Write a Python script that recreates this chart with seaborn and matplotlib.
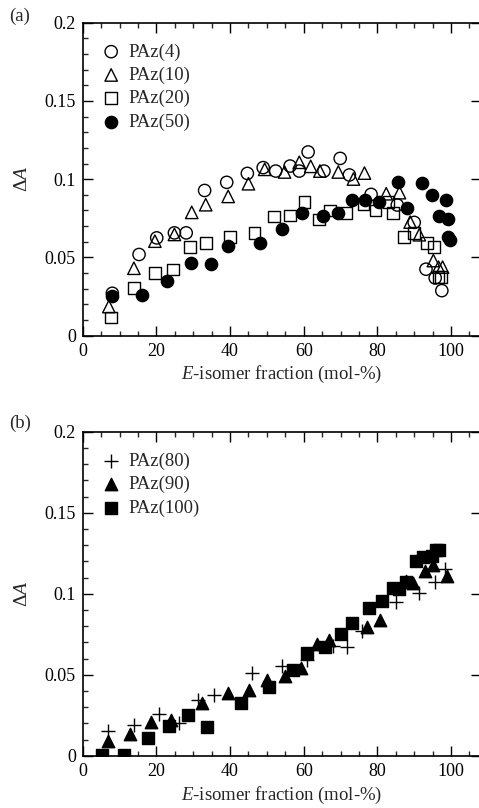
import matplotlib
matplotlib.use("Agg")
import matplotlib.pyplot as plt
import seaborn as sns
import pandas as pd
from matplotlib.ticker import MultipleLocator, FuncFormatter

sns.set_theme(style="ticks")
plt.rcParams['font.family'] = ['Liberation Serif', 'DejaVu Serif']
plt.rcParams['mathtext.fontset'] = 'custom'
plt.rcParams['mathtext.rm'] = 'Liberation Serif'
plt.rcParams['mathtext.it'] = 'Liberation Serif:italic'

# ---------------- Panel (a) data ----------------
paz4_x = [8.05, 15.3, 20.1, 24.9, 28.1, 33.1, 39.1, 44.7, 49.0, 52.4, 56.3, 58.8, 61.2, 65.5, 69.9, 72.4, 78.3, 85.4, 90.0, 93.2, 95.7, 97.5]
paz4_y = [0.0271, 0.0519, 0.0625, 0.0657, 0.0657, 0.0928, 0.098, 0.1037, 0.1074, 0.1052, 0.1084, 0.1052, 0.1174, 0.1052, 0.1133, 0.1027, 0.0903, 0.0835, 0.0724, 0.0425, 0.0369, 0.0288]

paz10_x = [7.1, 13.9, 19.6, 24.9, 29.6, 33.4, 39.5, 45.0, 49.4, 54.8, 58.8, 61.9, 64.4, 69.4, 73.5, 76.5, 82.4, 86.0, 88.9, 91.4, 95.2, 96.6, 97.7]
paz10_y = [0.0186, 0.0431, 0.0604, 0.0647, 0.0788, 0.0837, 0.089, 0.0971, 0.1063, 0.1046, 0.1108, 0.1082, 0.1052, 0.1046, 0.1001, 0.1039, 0.0907, 0.0914, 0.0726, 0.0645, 0.048, 0.0438, 0.0438]

paz20_x = [7.6, 13.9, 19.6, 24.6, 29.1, 33.4, 40.0, 46.6, 52.0, 56.3, 60.2, 64.2, 67.1, 71.5, 76.2, 79.5, 83.0, 84.3, 87.2, 90.0, 93.4, 95.4, 96.6, 97.3]
paz20_y = [0.0117, 0.0305, 0.0399, 0.0423, 0.0566, 0.0591, 0.063, 0.0657, 0.0762, 0.0768, 0.0856, 0.0743, 0.080, 0.0783, 0.0843, 0.080, 0.0854, 0.0785, 0.063, 0.0657, 0.0591, 0.0566, 0.0374, 0.0374]

paz50_x = [8.05, 16.0, 23.0, 29.3, 34.8, 39.5, 48.0, 54.2, 59.5, 65.3, 69.4, 73.2, 76.7, 80.5, 85.5, 88.1, 92.2, 94.8, 96.6, 98.6, 99.3, 99.3, 99.7]
paz50_y = [0.0254, 0.026, 0.0352, 0.0467, 0.0459, 0.0572, 0.0593, 0.0681, 0.0785, 0.0766, 0.0785, 0.0869, 0.0864, 0.0854, 0.0982, 0.0817, 0.0975, 0.0901, 0.0768, 0.0869, 0.0743, 0.063, 0.0613]

# ---------------- Panel (b) data ----------------
paz80_x = [6.8, 13.8, 20.8, 26.2, 31.2, 35.7, 45.9, 54.0, 60.8, 67.9, 71.7, 75.7, 85.1, 91.4, 95.7, 98.4]
paz80_y = [0.0155, 0.0192, 0.0259, 0.0201, 0.0341, 0.0372, 0.0513, 0.0554, 0.0589, 0.0676, 0.0672, 0.0769, 0.0951, 0.1003, 0.1073, 0.1152]

paz90_x = [7.0, 12.9, 18.5, 23.9, 32.3, 39.5, 45.2, 50.1, 55.0, 59.4, 63.5, 66.9, 77.3, 80.7, 87.9, 89.7, 92.8, 95.2, 98.8]
paz90_y = [0.0089, 0.0134, 0.0207, 0.0223, 0.0325, 0.0389, 0.0403, 0.0465, 0.0492, 0.0544, 0.0687, 0.0714, 0.0796, 0.0838, 0.108, 0.1065, 0.1142, 0.1175, 0.1107]

paz100_x = [5.2, 11.3, 17.8, 23.4, 28.7, 33.7, 42.9, 50.7, 57.0, 61.0, 65.8, 70.1, 73.0, 77.8, 81.2, 84.3, 85.9, 87.8, 90.5, 92.5, 94.8, 95.9, 96.8]
paz100_y = [0.0004, 0.0004, 0.011, 0.0182, 0.0252, 0.0176, 0.0327, 0.0424, 0.0532, 0.0637, 0.0668, 0.0751, 0.0821, 0.091, 0.0956, 0.1034, 0.103, 0.1075, 0.1204, 0.1224, 0.1231, 0.1272, 0.1272]

x_ticks = [0, 20, 40, 60, 80, 100]
y_ticks = [0, 0.05, 0.1, 0.15, 0.2]

W, H = 479, 808
fig = plt.figure(figsize=(W / 100, H / 100), dpi=100)
fig.patch.set_facecolor('white')

ax_a = fig.add_axes([82.7 / W, (H - 335.7) / H, 397.8 / W, 313 / H])
ax_b = fig.add_axes([82.7 / W, (H - 755.7) / H, 397.8 / W, 324 / H])

series_a = [
    ("PAz(4)", paz4_x, paz4_y, dict(marker='o', s=78, facecolor='none', edgecolor='black', linewidth=1.0)),
    ("PAz(10)", paz10_x, paz10_y, dict(marker='^', s=80, facecolor='none', edgecolor='black', linewidth=1.0)),
    ("PAz(20)", paz20_x, paz20_y, dict(marker='s', s=70, facecolor='none', edgecolor='black', linewidth=1.0)),
    ("PAz(50)", paz50_x, paz50_y, dict(marker='o', s=78, facecolor='black', edgecolor='black', linewidth=1.0)),
]
series_b = [
    ("PAz(80)", paz80_x, paz80_y, dict(marker='+', s=90, color='black', linewidth=1.0)),
    ("PAz(90)", paz90_x, paz90_y, dict(marker='^', s=80, facecolor='black', edgecolor='black', linewidth=1.0)),
    ("PAz(100)", paz100_x, paz100_y, dict(marker='s', s=75, facecolor='black', edgecolor='black', linewidth=1.0)),
]

for ax, series in ((ax_a, series_a), (ax_b, series_b)):
    for name, xs, ys, kw in series:
        df = pd.DataFrame({"x": xs, "y": ys})
        sns.scatterplot(data=df, x="x", y="y", ax=ax, label=name, zorder=3, **kw)

    ax.set_xlim(0, 108)
    ax.set_ylim(0, 0.2)
    ax.xaxis.set_major_locator(MultipleLocator(20))
    ax.xaxis.set_minor_locator(MultipleLocator(5))
    ax.yaxis.set_major_locator(MultipleLocator(0.05))
    ax.yaxis.set_minor_locator(MultipleLocator(0.01))
    ax.set_xticks(x_ticks)
    ax.set_yticks(y_ticks)
    ax.xaxis.set_major_formatter(FuncFormatter(lambda v, p: '%g' % v))
    ax.yaxis.set_major_formatter(FuncFormatter(lambda v, p: '%g' % round(v, 3)))
    ax.tick_params(which='major', direction='in', length=7.5, width=1.0, top=True, right=True,
                   labelsize=13, colors='black', pad=5)
    ax.tick_params(which='minor', direction='in', length=3.8, width=1.0, top=True, right=False)
    for sp in ax.spines.values():
        sp.set_linewidth(1.2)
        sp.set_color('black')
    ax.set_xlabel(r'$\mathit{E}$-isomer fraction (mol-%)', fontsize=13.5, labelpad=3)
    ax.set_ylabel(r'$\Delta\mathit{A}$', fontsize=14)
    ax.yaxis.set_label_coords(-0.13, 0.5)
    ax.set_facecolor('white')
    leg = ax.legend(loc='upper left', bbox_to_anchor=(0.015, 0.97), frameon=False,
                    fontsize=13.5, handletextpad=0.3, labelspacing=0.32,
                    borderaxespad=0.2, handlelength=1.2, scatterpoints=1)

ax_b.xaxis.labelpad = 4

fig.text(9 / W, 1 - 16 / H, '(a)', fontsize=13.5, va='center', ha='left')
fig.text(9 / W, 1 - 423 / H, '(b)', fontsize=13.5, va='center', ha='left')

fig.savefig('out.png', dpi=100)
